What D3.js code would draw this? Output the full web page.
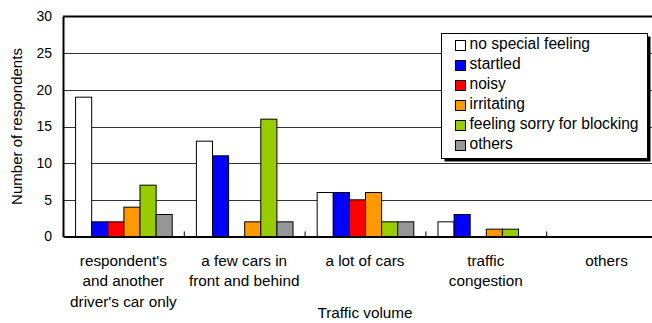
<!DOCTYPE html>
<html>
<head>
<meta charset="utf-8">
<script src="https://cdn.jsdelivr.net/npm/d3@7"></script>
<style>
  html, body { margin: 0; padding: 0; background: #fff; overflow: hidden; }
  svg { display: block; font-family: "Liberation Sans", Arial, sans-serif; }
</style>
</head>
<body>
<svg id="chart" width="652" height="323"></svg>
<script>
// Traffic-volume categories (x axis), each label split into its display lines
const categories = [
  "respondent's|and another|driver's car only",
  "a few cars in|front and behind",
  "a lot of cars",
  "traffic|congestion",
  "others"
];

// Feelings reported (one bar per feeling in every group)
const seriesNames = [
  "no special feeling",
  "startled",
  "noisy",
  "irritating",
  "feeling sorry for blocking",
  "others"
];
const seriesColors = ["#ffffff", "#0000ff", "#ff0000", "#ff9900", "#99cc00", "#969696"];

// Respondent counts, one array per feeling, ordered like the categories
const noSpecialFeeling = [19, 13, 6, 2, 0];
const startled         = [2, 11, 6, 3, 0];
const noisy            = [2, 0, 5, 0, 0];
const irritating       = [4, 2, 6, 1, 0];
const feelingSorry     = [7, 16, 2, 1, 0];
const othersFeeling    = [3, 2, 2, 0, 0];

const yTicks = [0, 5, 10, 15, 20, 25, 30];

const values = [noSpecialFeeling, startled, noisy, irritating, feelingSorry, othersFeeling];

const svg = d3.select("#chart");
const plot = { left: 63, right: 667, top: 16.5, bottom: 236.5 };

const x0 = d3.scaleBand().domain(d3.range(categories.length))
  .range([plot.left, plot.right]).padding(0);
const x1 = d3.scaleBand().domain(d3.range(seriesNames.length))
  .range([0, x0.bandwidth()]).paddingInner(0).paddingOuter(0.75);
const y = d3.scaleLinear().domain([0, 30]).range([plot.bottom, plot.top]);

// horizontal gridlines
svg.append("g")
  .selectAll("line")
  .data(yTicks.filter(t => t > 0 && t < 30))
  .join("line")
  .attr("x1", plot.left).attr("x2", plot.right)
  .attr("y1", d => Math.round(y(d)) + 0.5).attr("y2", d => Math.round(y(d)) + 0.5)
  .attr("stroke", "#333").attr("stroke-width", 1);

// top frame line
svg.append("line")
  .attr("x1", plot.left).attr("x2", plot.right)
  .attr("y1", plot.top).attr("y2", plot.top)
  .attr("stroke", "#000").attr("stroke-width", 2);

// bars
const groups = svg.append("g").selectAll("g")
  .data(categories.map((c, i) => i))
  .join("g")
  .attr("transform", i => `translate(${x0(i)},0)`);

groups.selectAll("rect")
  .data(i => values.map((arr, s) => ({ s, v: arr[i] })))
  .join("rect")
  .attr("x", d => x1(d.s) + 0.5)
  .attr("width", x1.bandwidth())
  .attr("y", d => y(d.v))
  .attr("height", d => y(0) - y(d.v))
  .attr("fill", d => seriesColors[d.s])
  .attr("stroke", "#000")
  .attr("stroke-width", 1);

// y axis
const yAxis = d3.axisLeft(y).tickValues(yTicks).tickSize(0).tickPadding(11);
const yg = svg.append("g").attr("transform", `translate(${plot.left},0)`).call(yAxis);
yg.select(".domain").attr("stroke", "#000").attr("stroke-width", 2);
yg.selectAll("text").attr("font-size", 14).attr("fill", "#000")
  .attr("font-family", "'Liberation Sans', Arial, sans-serif");

// x axis
const xAxis = d3.axisBottom(x0).tickSize(0).tickFormat("");
const xg = svg.append("g").attr("transform", `translate(0,${plot.bottom})`).call(xAxis);
xg.select(".domain").attr("stroke", "#000").attr("stroke-width", 2);

// inside tick marks between groups
svg.append("g").selectAll("line")
  .data(d3.range(1, categories.length))
  .join("line")
  .attr("x1", i => x0(i) + 0.5).attr("x2", i => x0(i) + 0.5)
  .attr("y1", plot.bottom).attr("y2", plot.bottom - 5)
  .attr("stroke", "#000").attr("stroke-width", 1);

// category labels
svg.append("g").selectAll("text")
  .data(categories.map((c, i) => ({ c, i })))
  .join("text")
  .attr("text-anchor", "middle")
  .attr("font-size", 15.3)
  .attr("fill", "#000")
  .each(function (d) {
    const t = d3.select(this);
    d.c.split("|").forEach((line, k) => {
      t.append("tspan")
        .attr("x", x0(d.i) + x0.bandwidth() / 2)
        .attr("y", 266 + k * 20.3)
        .text(line);
    });
  });

// axis titles
svg.append("text")
  .attr("x", 365).attr("y", 318)
  .attr("text-anchor", "middle").attr("font-size", 15.3)
  .text("Traffic volume");

svg.append("text")
  .attr("transform", `translate(22,${(plot.top + plot.bottom) / 2}) rotate(-90)`)
  .attr("text-anchor", "middle").attr("font-size", 15)
  .text("Number of respondents");

// legend
const lg = { x: 441.5, y: 33.5, w: 206, h: 125 };
svg.append("rect")
  .attr("x", lg.x + 3).attr("y", lg.y + 3)
  .attr("width", lg.w).attr("height", lg.h)
  .attr("fill", "#000");
svg.append("rect")
  .attr("x", lg.x).attr("y", lg.y)
  .attr("width", lg.w).attr("height", lg.h)
  .attr("fill", "#fff").attr("stroke", "#000").attr("stroke-width", 1);

const items = svg.append("g").selectAll("g")
  .data(seriesNames.map((n, i) => ({ n, i })))
  .join("g")
  .attr("transform", d => `translate(${lg.x + 14},${48.5 + d.i * 20})`);
items.append("rect")
  .attr("x", 0).attr("y", -8)
  .attr("width", 10).attr("height", 10)
  .attr("fill", d => seriesColors[d.i])
  .attr("stroke", "#000").attr("stroke-width", 1);
items.append("text")
  .attr("x", 14).attr("y", 0)
  .attr("font-size", 15.6).attr("fill", "#000")
  .text(d => d.n);
</script>
</body>
</html>
